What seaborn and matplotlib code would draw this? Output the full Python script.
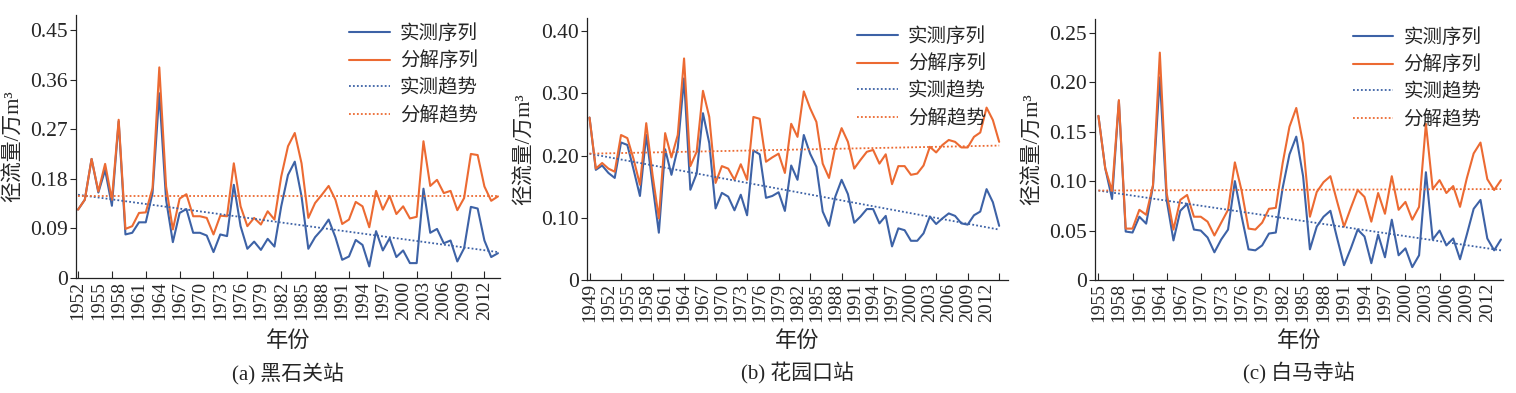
"""Runoff series vs decomposed series at three stations."""

import matplotlib
matplotlib.use("Agg")
import matplotlib.pyplot as plt
import seaborn as sns
import numpy as np
from matplotlib.lines import Line2D

sns.set_style("ticks")
plt.rcParams['font.family'] = ['Liberation Serif', 'Noto Sans CJK SC']
plt.rcParams['axes.unicode_minus'] = False

BLUE = '#3d62a6'
ORANGE = '#ec6a32'

# ---- (a) 黑石关站 ----
years_a = list(range(1952, 2015))
obs_a = [0.124, 0.142, 0.216, 0.155, 0.196, 0.131, 0.284, 0.079, 0.082, 0.101,
         0.101, 0.154, 0.335, 0.142, 0.065, 0.118, 0.125, 0.082, 0.082, 0.077,
         0.047, 0.079, 0.076, 0.169, 0.094, 0.053, 0.066, 0.051, 0.071, 0.057,
         0.130, 0.187, 0.211, 0.148, 0.053, 0.074, 0.088, 0.106, 0.074, 0.033,
         0.039, 0.069, 0.060, 0.021, 0.085, 0.050, 0.072, 0.038, 0.050, 0.027,
         0.027, 0.162, 0.082, 0.089, 0.063, 0.068, 0.030, 0.054, 0.129, 0.126,
         0.068, 0.038, 0.045]
dec_a = [0.124, 0.142, 0.216, 0.157, 0.207, 0.142, 0.287, 0.089, 0.094, 0.118,
         0.119, 0.163, 0.382, 0.166, 0.088, 0.144, 0.152, 0.112, 0.112, 0.109,
         0.079, 0.113, 0.112, 0.208, 0.130, 0.094, 0.109, 0.097, 0.121, 0.106,
         0.184, 0.239, 0.263, 0.208, 0.109, 0.136, 0.151, 0.167, 0.142, 0.098,
         0.106, 0.138, 0.130, 0.092, 0.158, 0.124, 0.149, 0.116, 0.130, 0.108,
         0.111, 0.248, 0.167, 0.178, 0.154, 0.158, 0.123, 0.145, 0.225, 0.223,
         0.166, 0.140, 0.148]
trend_years_a = [1952, 2014]
obs_trend_a = [0.151, 0.047]
dec_trend_a = [0.149, 0.149]

# ---- (b) 花园口站 ----
years_b = list(range(1949, 2015))
obs_b = [0.261, 0.177, 0.184, 0.172, 0.164, 0.221, 0.217, 0.177, 0.135, 0.233,
         0.153, 0.076, 0.210, 0.169, 0.212, 0.324, 0.145, 0.171, 0.268, 0.220,
         0.115, 0.140, 0.134, 0.112, 0.137, 0.104, 0.208, 0.202, 0.132, 0.135,
         0.141, 0.111, 0.184, 0.161, 0.233, 0.203, 0.182, 0.110, 0.087, 0.134,
         0.161, 0.138, 0.092, 0.102, 0.114, 0.114, 0.091, 0.103, 0.054, 0.083,
         0.080, 0.063, 0.063, 0.075, 0.102, 0.090, 0.099, 0.107, 0.103, 0.091,
         0.089, 0.104, 0.110, 0.146, 0.125, 0.087]
dec_b = [0.261, 0.179, 0.188, 0.179, 0.174, 0.233, 0.228, 0.194, 0.153, 0.252,
         0.169, 0.099, 0.236, 0.197, 0.233, 0.356, 0.183, 0.206, 0.304, 0.262,
         0.156, 0.183, 0.179, 0.161, 0.186, 0.161, 0.262, 0.259, 0.190, 0.197,
         0.203, 0.172, 0.251, 0.230, 0.303, 0.276, 0.254, 0.187, 0.164, 0.214,
         0.244, 0.222, 0.179, 0.193, 0.206, 0.209, 0.187, 0.202, 0.154, 0.183,
         0.183, 0.169, 0.171, 0.184, 0.214, 0.205, 0.217, 0.225, 0.222, 0.213,
         0.213, 0.230, 0.237, 0.277, 0.257, 0.222]
trend_years_b = [1949, 2014]
obs_trend_b = [0.203, 0.081]
dec_trend_b = [0.203, 0.216]

# ---- (c) 白马寺站 ----
years_c = list(range(1955, 2015))
obs_c = [0.166, 0.113, 0.082, 0.181, 0.049, 0.048, 0.064, 0.057, 0.095, 0.205,
         0.081, 0.040, 0.070, 0.077, 0.051, 0.050, 0.043, 0.028, 0.041, 0.051,
         0.100, 0.064, 0.031, 0.030, 0.035, 0.047, 0.048, 0.093, 0.127, 0.145,
         0.105, 0.031, 0.054, 0.064, 0.070, 0.042, 0.015, 0.032, 0.051, 0.044,
         0.017, 0.046, 0.023, 0.061, 0.025, 0.032, 0.013, 0.025, 0.109, 0.041,
         0.050, 0.035, 0.042, 0.021, 0.046, 0.072, 0.081, 0.042, 0.030, 0.041]
dec_c = [0.166, 0.113, 0.090, 0.182, 0.052, 0.052, 0.071, 0.066, 0.096, 0.230,
         0.088, 0.051, 0.081, 0.086, 0.064, 0.064, 0.059, 0.045, 0.058, 0.071,
         0.119, 0.090, 0.052, 0.051, 0.058, 0.072, 0.073, 0.118, 0.155, 0.174,
         0.138, 0.064, 0.089, 0.099, 0.105, 0.079, 0.054, 0.073, 0.091, 0.084,
         0.059, 0.088, 0.067, 0.105, 0.071, 0.079, 0.061, 0.074, 0.158, 0.092,
         0.101, 0.088, 0.095, 0.074, 0.103, 0.128, 0.139, 0.102, 0.091, 0.101]
trend_years_c = [1955, 2014]
obs_trend_c = [0.0905, 0.030]
dec_trend_c = [0.0905, 0.092]

labels = ['实测序列', '分解序列', '实测趋势', '分解趋势']

panels = [
    dict(years=years_a, obs=obs_a, dec=dec_a, ty=trend_years_a, ot=obs_trend_a,
         dt=dec_trend_a, yt=[0, 0.09, 0.18, 0.27, 0.36, 0.45],
         ytl=['0', '0.09', '0.18', '0.27', '0.36', '0.45'], ylim=0.477,
         xlim=(1951.7, 2014.3), caption='(a) 黑石关站',
         rect=[76, 15, 500, 278]),
    dict(years=years_b, obs=obs_b, dec=dec_b, ty=trend_years_b, ot=obs_trend_b,
         dt=dec_trend_b, yt=[0, 0.10, 0.20, 0.30, 0.40],
         ytl=['0', '0.10', '0.20', '0.30', '0.40'], ylim=0.421,
         xlim=(1948.6, 2015.4), caption='(b) 花园口站',
         rect=[587, 18, 1008, 280]),
    dict(years=years_c, obs=obs_c, dec=dec_c, ty=trend_years_c, ot=obs_trend_c,
         dt=dec_trend_c, yt=[0, 0.05, 0.10, 0.15, 0.20, 0.25],
         ytl=['0', '0.05', '0.10', '0.15', '0.20', '0.25'], ylim=0.264,
         xlim=(1954.5, 2014.3), caption='(c) 白马寺站',
         rect=[1095, 19, 1503, 280]),
]

W, H = 1516, 393
fig = plt.figure(figsize=(W / 100, H / 100), dpi=100)

for p in panels:
    x0, y0, x1, y1 = p['rect']
    ax = fig.add_axes([x0 / W, 1 - y1 / H, (x1 - x0) / W, (y1 - y0) / H])

    sns.lineplot(x=p['years'], y=p['obs'], color=BLUE, lw=1.5, ax=ax)
    sns.lineplot(x=p['years'], y=p['dec'], color=ORANGE, lw=1.5, ax=ax)
    ax.plot(p['ty'], p['ot'], color=BLUE, lw=1.3, ls=(0, (1, 1.2)))
    ax.plot(p['ty'], p['dt'], color=ORANGE, lw=1.3, ls=(0, (1, 1.2)))

    ax.set_xlim(*p['xlim'])
    ax.set_ylim(0, p['ylim'])
    ax.set_yticks(p['yt'])
    ax.set_yticklabels(p['ytl'], fontsize=15.5)
    ax.tick_params(axis='y', direction='out', length=4, width=0.8, pad=2)

    # tick marks every 5 years, labels every 3 years
    ax.xaxis.remove_overlapping_locs = False
    first = p['years'][0]
    ax.set_xticks(np.arange(first, p['xlim'][1], 5))
    ax.set_xticklabels([])
    lab_years = list(range(first, 2013, 3))
    ax.set_xticks(lab_years, minor=True)
    ax.set_xticklabels([str(y) for y in lab_years], minor=True,
                       rotation=90, fontsize=14)
    ax.tick_params(axis='x', which='major', direction='in', length=5, width=0.8)
    ax.tick_params(axis='x', which='minor', length=0, pad=2)

    sns.despine(ax=ax)
    for s in ['left', 'bottom']:
        ax.spines[s].set_linewidth(0.9)
        ax.spines[s].set_color('#222222')

    # ylabel anchor is its right edge (rotated text)
    ax.set_ylabel('径流量/万m³', fontsize=15)
    ax.yaxis.set_label_coords(-52 / (x1 - x0), 0.5)
    xc = (x0 + x1) / 2 / W
    fig.text(xc, 1 - 342 / H, '年份', ha='center', va='center', fontsize=16)
    fig.text(xc, 1 - 373 / H, p['caption'], ha='center', va='center',
             fontsize=15)

    handles = [Line2D([], [], color=BLUE, lw=1.5),
               Line2D([], [], color=ORANGE, lw=1.5),
               Line2D([], [], color=BLUE, lw=1.3, ls=(0, (1, 1.2))),
               Line2D([], [], color=ORANGE, lw=1.3, ls=(0, (1, 1.2)))]
    ax.legend(handles, labels, loc='upper right', bbox_to_anchor=(0.975, 1.01),
              frameon=False, fontsize=14, handlelength=2.1,
              labelspacing=0.45, handletextpad=0.5, borderpad=0.1)

fig.savefig('out.png', dpi=100)
